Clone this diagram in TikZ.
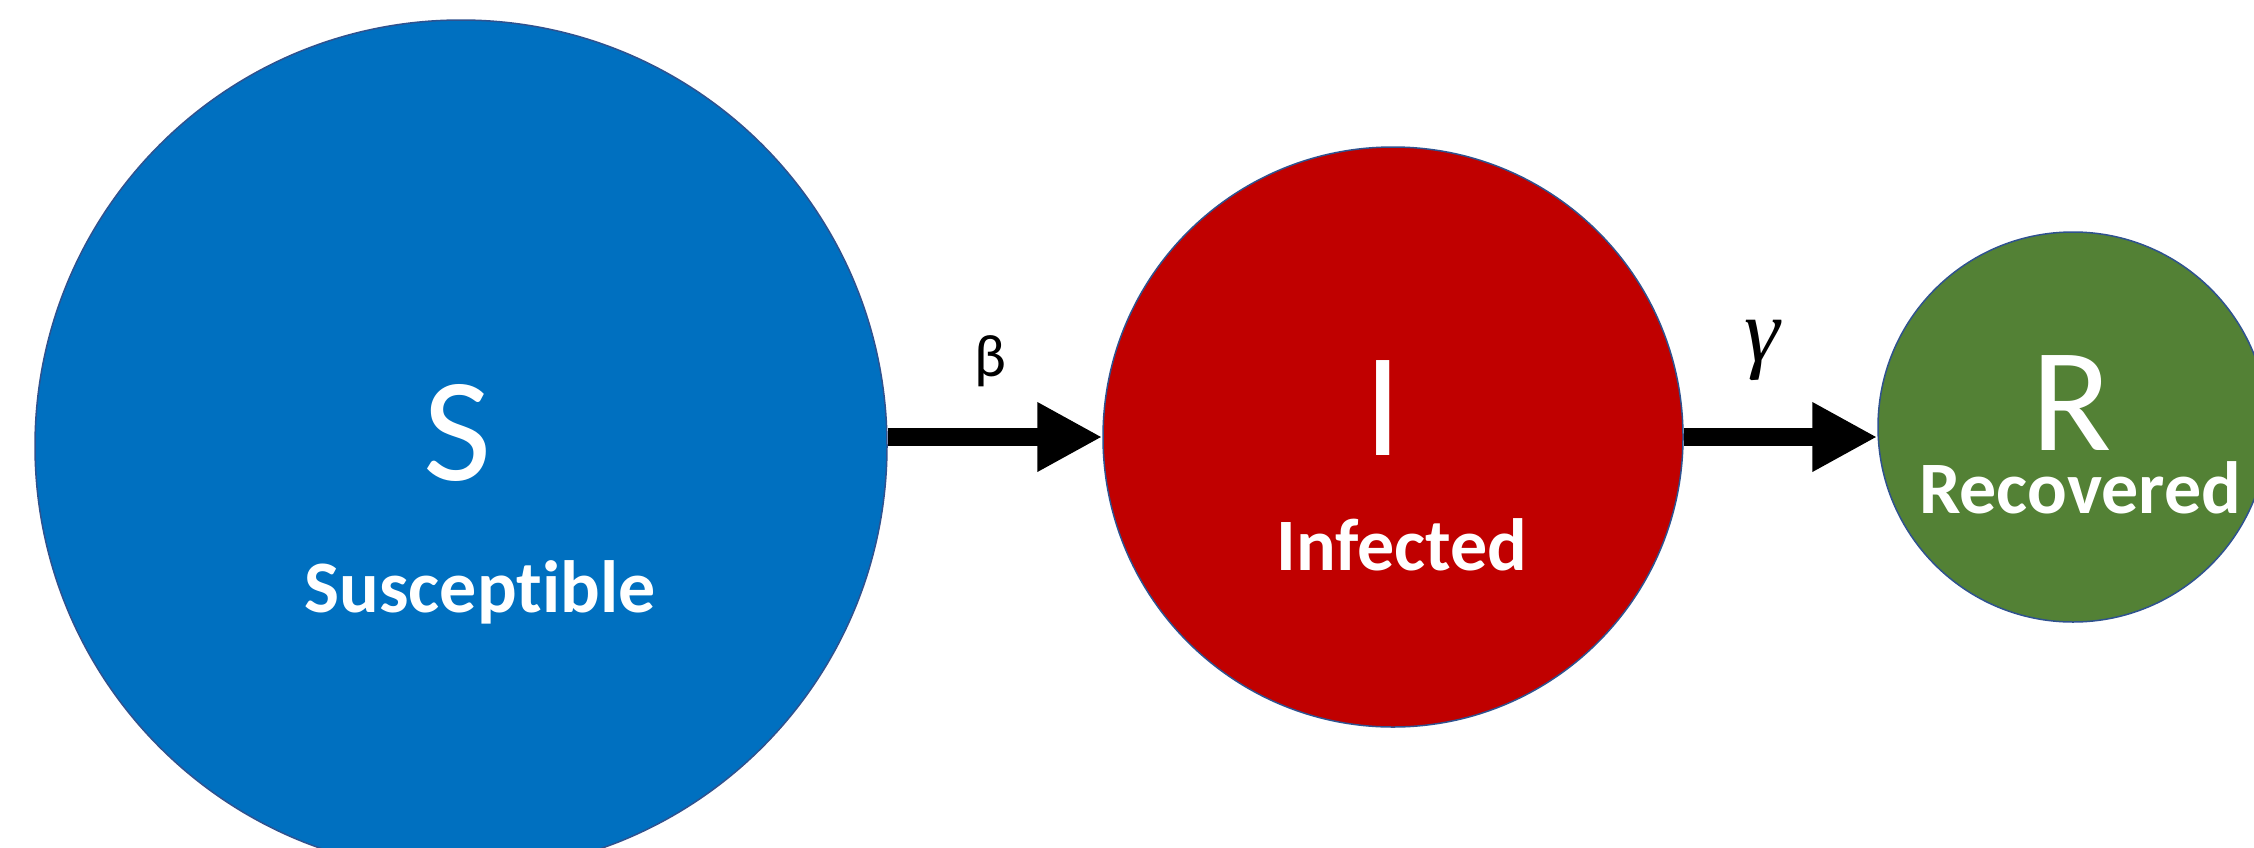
\documentclass[tikz,border=0pt]{standalone}
\usepackage{fontspec}
\setmainfont{Carlito}[Ligatures=CommonOff]
\newfontfamily\rateserif{Liberation Serif}
\usetikzlibrary{arrows.meta}
\definecolor{sblue}{HTML}{0070C0}
\definecolor{ired}{HTML}{C00000}
\definecolor{rgreen}{HTML}{538135}
\definecolor{edgeblue}{HTML}{2F528F}
\tikzset{
  compartment/.style={circle, draw=edgeblue, line width=1.5pt, inner sep=0pt},
  bigletter/.style={text=white, font=\fontsize{148}{148}\selectfont, inner sep=0pt, anchor=base},
  caption/.style={text=white, font=\bfseries\fontsize{74}{74}\selectfont, inner sep=0pt, anchor=base, text height=0.66em, text depth=0.2em},
  rate/.style={text=black, inner sep=0pt, anchor=base},
  flow/.style={line width=18pt, -{Triangle[length=65pt, width=65pt]}}
}
\begin{document}
\begin{tikzpicture}[x=1pt, y=-1pt]
\useasboundingbox[fill=white] (0,0) rectangle (2254,847);
\node[compartment, fill=sblue, minimum size=852pt] (S) at (461,446) {};
\node[compartment, fill=ired, minimum size=580pt] (I) at (1393,437) {};
\node[compartment, fill=rgreen, minimum size=390pt] (R) at (2073,427) {};
\draw[flow] (S.east |- I.west) -- (I.west);
\draw[flow] (I.east) -- (I.east -| R.west);
\node[bigletter] (Sl) at (457,480) {S};
\node[caption] (Sc) at (480,612) {Susceptible};
\node[bigletter] (Il) at (1383,455) {I};
\node[caption] (Ic) at (1402,570) {Infected};
\node[bigletter] (Rl) at (2072,450) {R};
\node[caption] (Rc) at (2080,513) {Recovered};
\node[rate, font=\fontsize{60}{60}\selectfont] (beta) at (990,376) {β};
\node[rate, font=\rateserif\itshape\fontsize{90}{90}\selectfont] (gamma) at (1762,361) {γ};
\end{tikzpicture}
\end{document}
